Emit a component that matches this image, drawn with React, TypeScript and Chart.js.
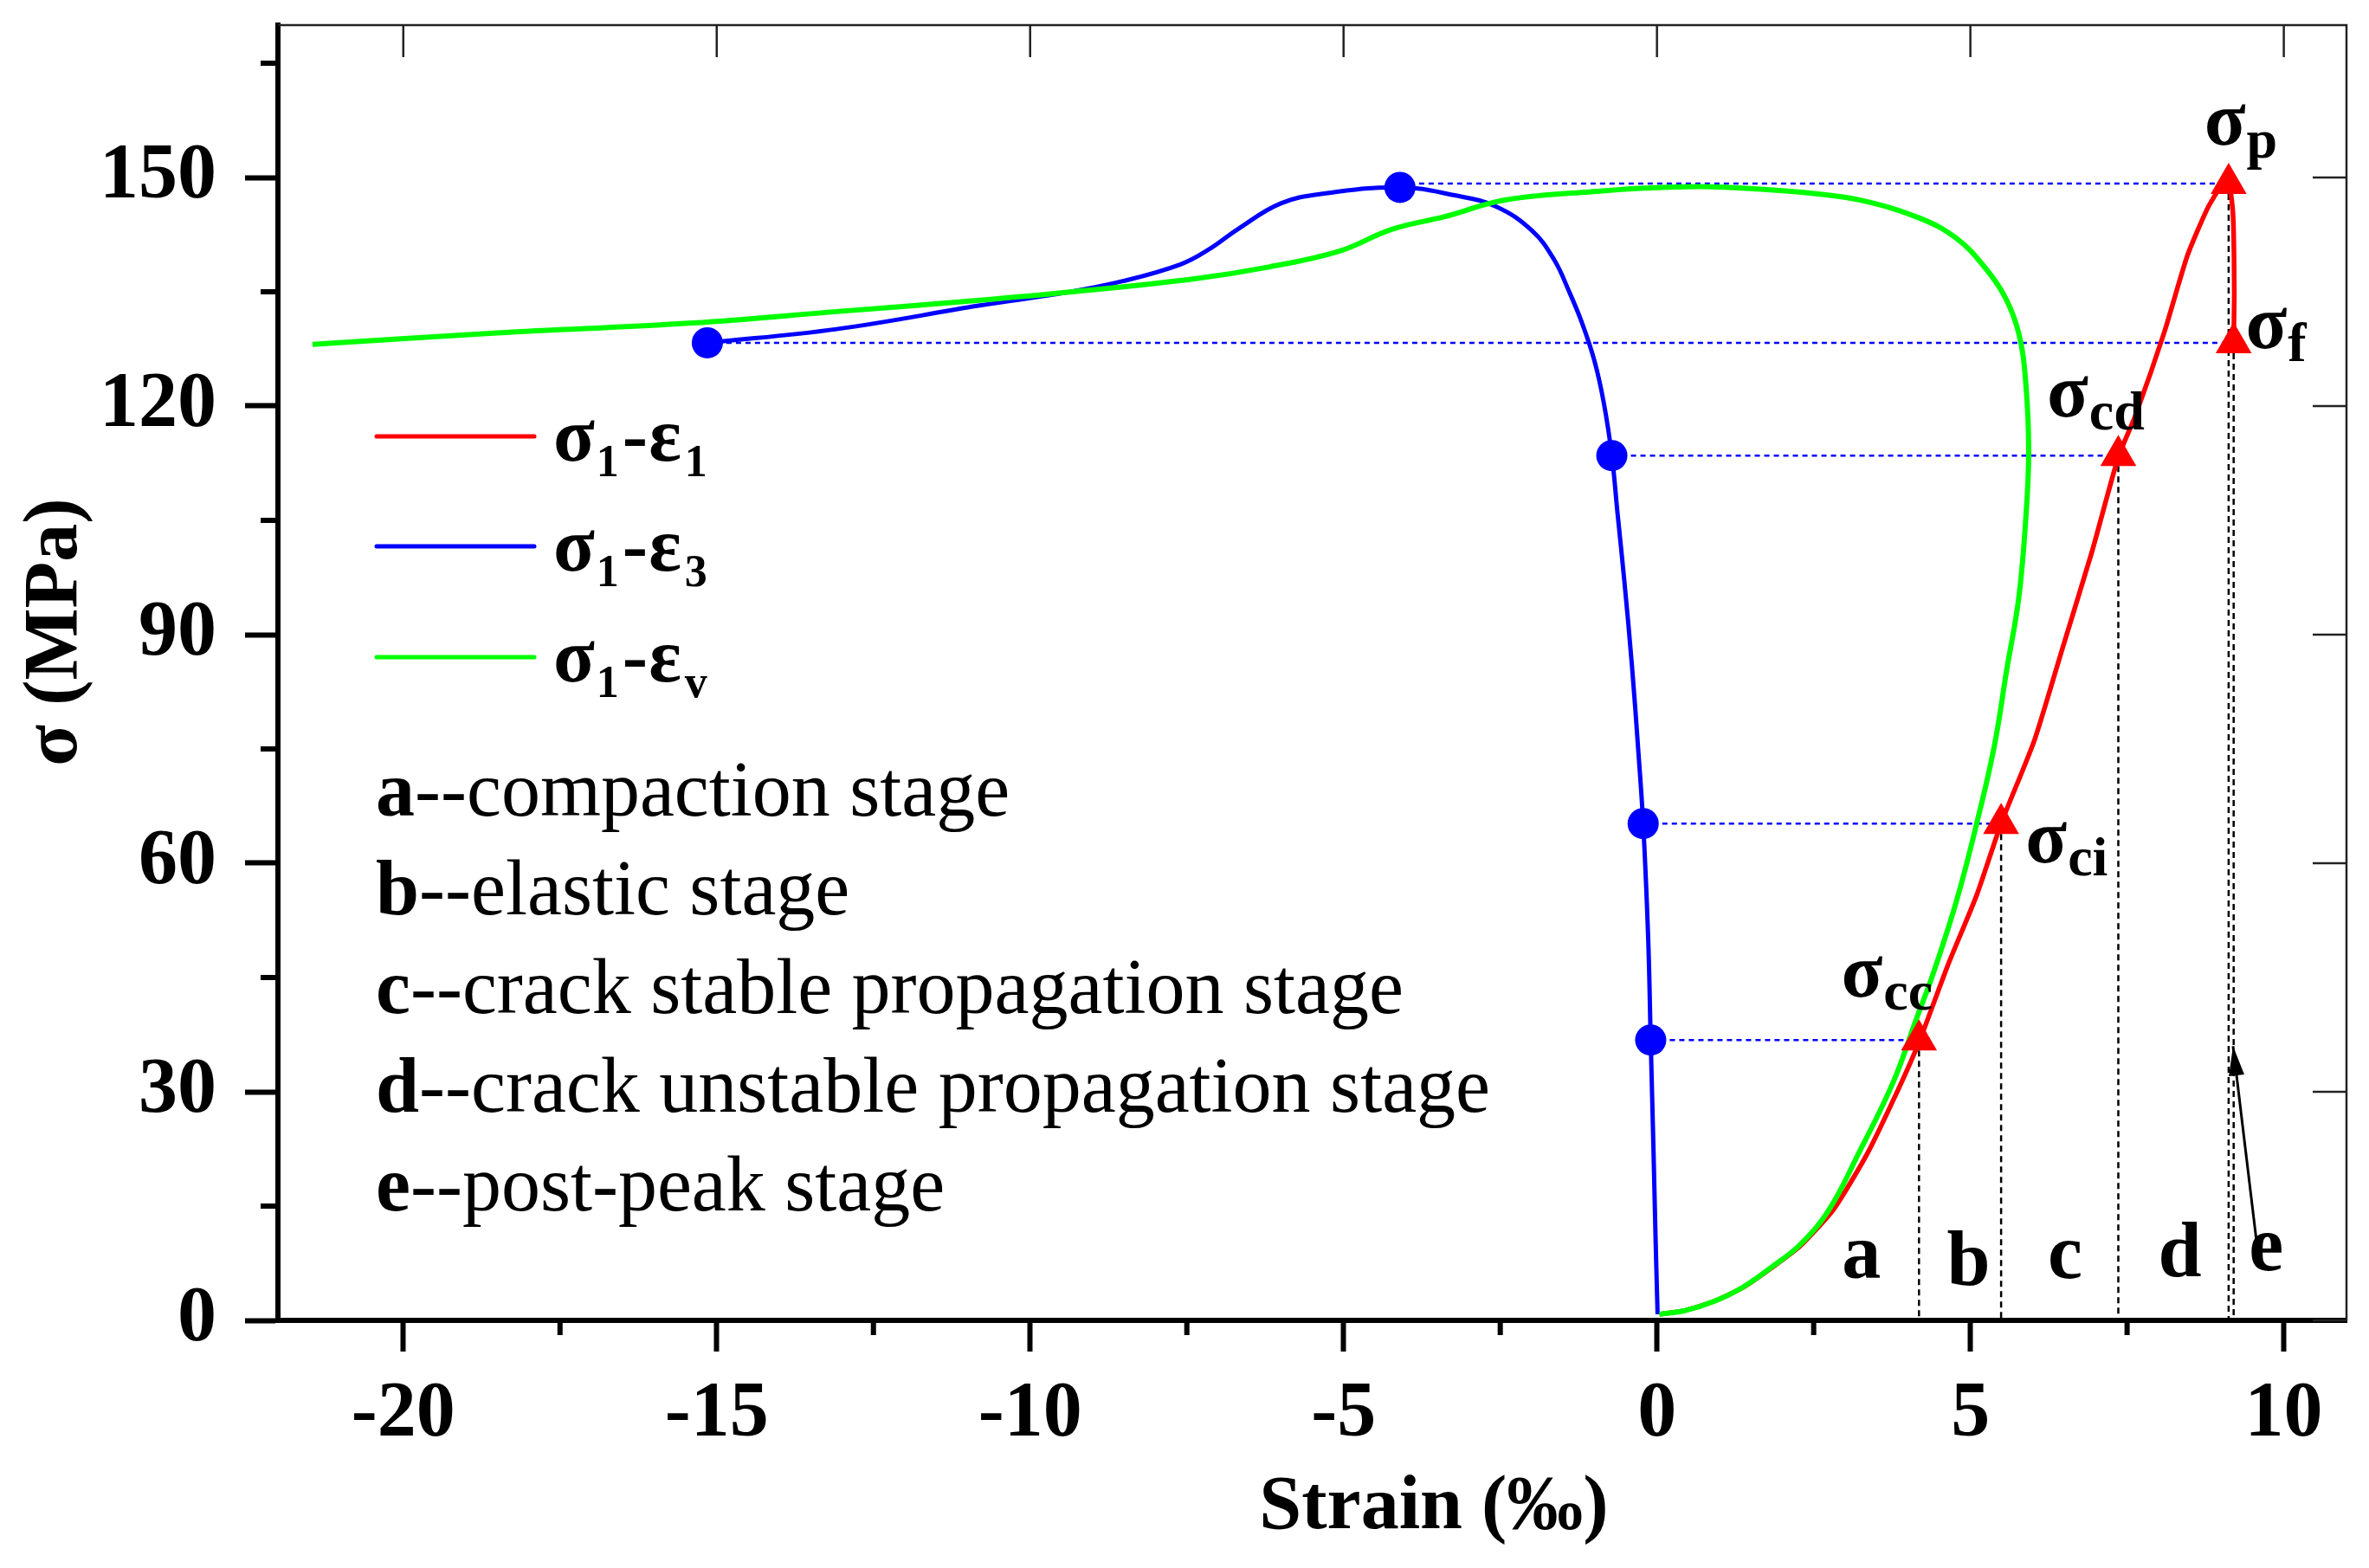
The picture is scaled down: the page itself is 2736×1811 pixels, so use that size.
import React, { useEffect, useRef } from 'react';
import { Chart, registerables } from 'chart.js';

Chart.register(...registerables);

const W = 2736;
const H = 1811;
const FONT = '"Liberation Serif", "Times New Roman", Times, serif';

// σ1-ε1 (axial strain, ‰ / MPa)
const axialStrain = [0.04, 0.45, 0.91, 1.37, 1.83, 2.29, 2.82, 3.35, 3.86, 4.18, 4.64, 5.1, 5.49, 6.02, 6.48, 6.94, 7.36, 7.63, 8.09, 8.46, 8.78, 9.01, 9.12, 9.19, 9.21, 9.2];
const axialStress = [0.8, 1.3, 2.5, 4.3, 6.9, 9.8, 14.6, 21.8, 30.5, 36.5, 46.6, 55.8, 65.2, 76.1, 88.5, 100.9, 113.3, 118.7, 129.6, 139.7, 145.9, 149.0, 149.4, 145.1, 135.0, 128.3];

// σ1-ε3 (lateral strain)
const lateralStrain = [0.01, -0.02, -0.055, -0.1, -0.14, -0.22, -0.3, -0.4, -0.52, -0.63, -0.72, -0.85, -1.0, -1.2, -1.4, -1.64, -1.99, -2.57, -3.25, -4.1, -5.3, -6.0, -6.69, -7.14, -7.6, -8.52, -9.43, -10.8, -13.09, -15.15];
const lateralStress = [0.8, 10.0, 22.2, 36.8, 50.1, 65.2, 75.0, 86.0, 97.0, 106.0, 113.5, 120.5, 126.0, 131.0, 135.0, 139.2, 143.0, 146.2, 147.7, 148.7, 147.9, 146.6, 143.2, 140.6, 138.6, 136.4, 134.9, 133.2, 130.1, 128.3];

// σ1-εv (volumetric strain)
const volStrain = [0.04, 0.45, 0.91, 1.37, 1.83, 2.29, 2.75, 3.21, 3.77, 4.14, 4.41, 4.78, 5.1, 5.38, 5.58, 5.77, 5.88, 5.93, 5.88, 5.77, 5.56, 5.24, 4.78, 4.18, 3.26, 2.5, 1.6, 0.7, -0.2, -1.08, -1.9, -2.57, -3.37, -4.23, -5.08, -6.23, -7.38, -9.32, -10.8, -13.09, -15.39, -18.5, -21.45];
const volStress = [0.8, 1.3, 2.5, 4.35, 7.0, 10.0, 14.6, 21.8, 31.3, 39.6, 45.6, 55.1, 65.2, 75.3, 85.4, 94.7, 104.8, 114.1, 123.4, 129.6, 134.2, 138.1, 142.0, 144.7, 147.0, 147.9, 148.5, 148.8, 148.6, 148.1, 147.6, 146.8, 144.9, 143.2, 140.3, 138.2, 136.7, 135.0, 133.9, 132.4, 130.9, 129.6, 128.1];

// characteristic stresses: p, f, cd, ci, cc
const charSubs = ['p', 'f', 'cd', 'ci', 'cc'];
const charAxialStrain = [9.12, 9.2, 7.36, 5.49, 4.18];
const charStress = [149.2, 128.3, 113.5, 65.2, 36.8];
const charLateralStrain = [-4.1, -15.15, -0.72, -0.22, -0.1];
const charLateralStress = [148.7, 128.3, 113.5, 65.2, 36.8];
const charLabelStrain = [8.73, 9.39, 6.22, 5.88, 2.94];
const charLabelStress = [154.3, 127.6, 118.6, 60.1, 42.5];

// stage marks
const stageLetters = ['a', 'b', 'c', 'd', 'e'];
const stageNames = ['--compaction stage', '--elastic stage', '--crack stable propagation stage', '--crack unstable propagation stage', '--post-peak stage'];
const stageMarkStrain = [3.26, 4.97, 6.51, 8.34, 9.72];
const stageMarkStress = [5.6, 4.7, 5.6, 5.8, 6.6];

// arrow pointing to stage e
const arrowStrain = [9.56, 9.19];
const arrowStress = [10.7, 36.0];

const RED = '#ff0000';
const BLUE = '#0000ff';
const GREEN = '#00ff00';

const pts = (xs: number[], ys: number[]) => xs.map((x, i) => ({ x, y: ys[i] }));

const legendItems = [
  { color: RED, sub: '1' },
  { color: BLUE, sub: '3' },
  { color: GREEN, sub: 'v' },
];

const decorPlugin = {
  id: 'decor',
  afterDraw(chart: any) {
    const { ctx, chartArea: a } = chart;
    const xs = chart.scales.x;
    const ys = chart.scales.y;
    const px = (v: number) => xs.getPixelForValue(v);
    const py = (v: number) => ys.getPixelForValue(v);
    ctx.save();

    // top/right frame with inward ticks
    ctx.strokeStyle = '#222';
    ctx.lineWidth = 2.5;
    ctx.beginPath();
    ctx.moveTo(a.left, a.top);
    ctx.lineTo(a.right, a.top);
    ctx.lineTo(a.right, a.bottom);
    ctx.stroke();
    ctx.beginPath();
    for (const t of xs.ticks) {
      const x = px(t.value);
      ctx.moveTo(x, a.top);
      ctx.lineTo(x, a.top + 37);
    }
    for (const t of ys.ticks) {
      const y = py(t.value);
      ctx.moveTo(a.right, y);
      ctx.lineTo(a.right - 39, y);
    }
    ctx.stroke();

    // minor ticks
    ctx.strokeStyle = '#000';
    ctx.lineWidth = 6;
    ctx.beginPath();
    const xStep = xs.ticks.length > 1 ? xs.ticks[1].value - xs.ticks[0].value : 5;
    for (const t of xs.ticks) {
      const m = t.value + xStep / 2;
      if (m < xs.max) {
        ctx.moveTo(px(m), a.bottom);
        ctx.lineTo(px(m), a.bottom + 17);
      }
    }
    const yStep = ys.ticks.length > 1 ? ys.ticks[1].value - ys.ticks[0].value : 30;
    for (const t of ys.ticks) {
      const m = t.value + yStep / 2;
      if (m < ys.max) {
        ctx.moveTo(a.left, py(m));
        ctx.lineTo(a.left - 20, py(m));
      }
    }
    ctx.stroke();

    // arrow head
    const tx = px(arrowStrain[1]);
    const ty = py(arrowStress[1]);
    const sx = px(arrowStrain[0]);
    const sy = py(arrowStress[0]);
    const len = Math.hypot(tx - sx, ty - sy);
    const ux = (tx - sx) / len;
    const uy = (ty - sy) / len;
    const hl = 34;
    const hw = 9;
    ctx.fillStyle = '#000';
    ctx.beginPath();
    ctx.moveTo(tx, ty);
    ctx.lineTo(tx - ux * hl - uy * hw, ty - uy * hl + ux * hw);
    ctx.lineTo(tx - ux * hl + uy * hw, ty - uy * hl - ux * hw);
    ctx.closePath();
    ctx.fill();

    ctx.fillStyle = '#000';
    ctx.textAlign = 'left';
    ctx.textBaseline = 'alphabetic';

    // characteristic stress labels
    charSubs.forEach((sub, i) => {
      const x = px(charLabelStrain[i]);
      const y = py(charLabelStress[i]);
      ctx.font = `bold 88px ${FONT}`;
      ctx.fillText('σ', x, y);
      const w = ctx.measureText('σ').width;
      ctx.font = `bold 64px ${FONT}`;
      ctx.fillText(sub, x + w + 1, y + 15);
    });

    // stage letters
    ctx.textAlign = 'center';
    ctx.font = `bold 90px ${FONT}`;
    stageLetters.forEach((l, i) => {
      ctx.fillText(l, px(stageMarkStrain[i]), py(stageMarkStress[i]));
    });

    // legend
    ctx.textAlign = 'left';
    const lineYs = [504, 631, 759];
    legendItems.forEach((it, i) => {
      const y = lineYs[i];
      ctx.strokeStyle = it.color;
      ctx.lineWidth = 5;
      ctx.lineCap = 'round';
      ctx.beginPath();
      ctx.moveTo(435, y);
      ctx.lineTo(617, y);
      ctx.stroke();
      let x = 639;
      const by = y + 28;
      ctx.font = `bold 88px ${FONT}`;
      ctx.fillText('σ', x, by);
      x += ctx.measureText('σ').width + 2;
      ctx.font = `bold 52px ${FONT}`;
      ctx.fillText('1', x, by + 18);
      x += ctx.measureText('1').width + 4;
      ctx.font = `bold 88px ${FONT}`;
      ctx.fillText('-', x, by);
      x += ctx.measureText('-').width + 1;
      ctx.fillText('ε', x, by);
      x += ctx.measureText('ε').width + 4;
      ctx.font = `bold 52px ${FONT}`;
      ctx.fillText(it.sub, x, by + 18);
    });

    // stage description list
    const baseY = [942, 1056, 1170, 1284, 1398];
    stageLetters.forEach((l, i) => {
      let x = 434;
      ctx.font = `bold 90px ${FONT}`;
      ctx.fillText(l, x, baseY[i]);
      x += ctx.measureText(l).width;
      ctx.font = `90px ${FONT}`;
      ctx.fillText(stageNames[i], x, baseY[i]);
    });

    // axis titles
    ctx.font = `bold 88px ${FONT}`;
    ctx.textAlign = 'center';
    ctx.fillText('Strain (‰)', 1656, 1765);
    ctx.save();
    ctx.translate(88, 730);
    ctx.rotate(-Math.PI / 2);
    ctx.fillText('σ (MPa)', 0, 0);
    ctx.restore();

    ctx.restore();
  },
};

export default function App() {
  const ref = useRef<HTMLCanvasElement | null>(null);

  useEffect(() => {
    document.body.style.margin = '0';
    document.body.style.overflow = 'hidden';
    const canvas = ref.current;
    if (!canvas) return;

    const guideH = charSubs.map((_, i) => ({
      type: 'scatter' as const,
      label: 'guideH' + i,
      data: [
        { x: charLateralStrain[i], y: charStress[i] },
        { x: charAxialStrain[i], y: charStress[i] },
      ],
      showLine: true,
      borderColor: BLUE,
      borderWidth: 2.5,
      borderDash: [6, 5],
      pointRadius: 0,
      order: 6,
    }));
    const guideV = charSubs.map((_, i) => ({
      type: 'scatter' as const,
      label: 'guideV' + i,
      data: [
        { x: charAxialStrain[i], y: charStress[i] },
        { x: charAxialStrain[i], y: 0 },
      ],
      showLine: true,
      borderColor: '#000',
      borderWidth: 2.5,
      borderDash: [7, 5],
      pointRadius: 0,
      order: 6,
    }));

    const chart = new Chart(canvas, {
      type: 'scatter',
      data: {
        datasets: [
          {
            label: 'σ1-ε1 points',
            data: pts(charAxialStrain, charStress),
            showLine: false,
            pointStyle: 'triangle',
            pointRadius: 24,
            pointBackgroundColor: RED,
            pointBorderWidth: 0,
            order: 0,
          },
          {
            label: 'σ1-ε3 points',
            data: pts(charLateralStrain, charLateralStress),
            showLine: false,
            pointStyle: 'circle',
            pointRadius: 18,
            pointBackgroundColor: BLUE,
            pointBorderWidth: 0,
            order: 0,
          },
          {
            label: 'σ1-εv',
            data: pts(volStrain, volStress),
            showLine: true,
            borderColor: GREEN,
            borderWidth: 6,
            tension: 0.4,
            pointRadius: 0,
            order: 1,
          },
          {
            label: 'σ1-ε3',
            data: pts(lateralStrain, lateralStress),
            showLine: true,
            borderColor: BLUE,
            borderWidth: 5,
            tension: 0.4,
            pointRadius: 0,
            order: 2,
          },
          {
            label: 'σ1-ε1',
            data: pts(axialStrain, axialStress),
            showLine: true,
            borderColor: RED,
            borderWidth: 5.5,
            tension: 0.2,
            pointRadius: 0,
            order: 3,
          },
          {
            label: 'arrow',
            data: pts(arrowStrain, arrowStress),
            showLine: true,
            borderColor: '#000',
            borderWidth: 3,
            pointRadius: 0,
            order: 4,
          },
          ...guideH,
          ...guideV,
        ],
      },
      options: {
        responsive: false,
        animation: false,
        events: [],
        layout: { padding: { left: 0, top: 29, right: 26, bottom: 0 } },
        plugins: {
          legend: { display: false },
          tooltip: { enabled: false },
          title: { display: false },
        },
        scales: {
          x: {
            type: 'linear',
            position: 'bottom',
            min: -22,
            max: 11,
            ticks: {
              stepSize: 5,
              includeBounds: false,
              padding: 20,
              color: '#000',
              font: { family: FONT, size: 90, weight: 'bold' },
              callback: (v: any) => String(v),
            },
            grid: { drawOnChartArea: false, drawTicks: true, tickLength: 36, tickWidth: 6, tickColor: '#000' },
            border: { display: true, width: 6, color: '#000' },
            afterFit: (s: any) => {
              s.height = H - 1525;
              s.paddingLeft = 0;
              s.paddingRight = 0;
            },
          },
          y: {
            type: 'linear',
            position: 'left',
            min: 0,
            max: 170,
            ticks: {
              stepSize: 30,
              includeBounds: false,
              padding: 33,
              color: '#000',
              font: { family: FONT, size: 90, weight: 'bold' },
              callback: (v: any) => String(v),
            },
            grid: { drawOnChartArea: false, drawTicks: true, tickLength: 38, tickWidth: 6, tickColor: '#000' },
            border: { display: true, width: 6, color: '#000' },
            afterFit: (s: any) => {
              s.width = 321;
              s.paddingTop = 0;
              s.paddingBottom = 0;
            },
          },
        },
      } as any,
      plugins: [decorPlugin],
    });

    return () => chart.destroy();
  }, []);

  return (
    <div style={{ position: 'fixed', left: 0, top: 0, width: W, height: H, background: '#fff' }}>
      <canvas ref={ref} width={W} height={H} style={{ display: 'block', width: W, height: H }} />
    </div>
  );
}
